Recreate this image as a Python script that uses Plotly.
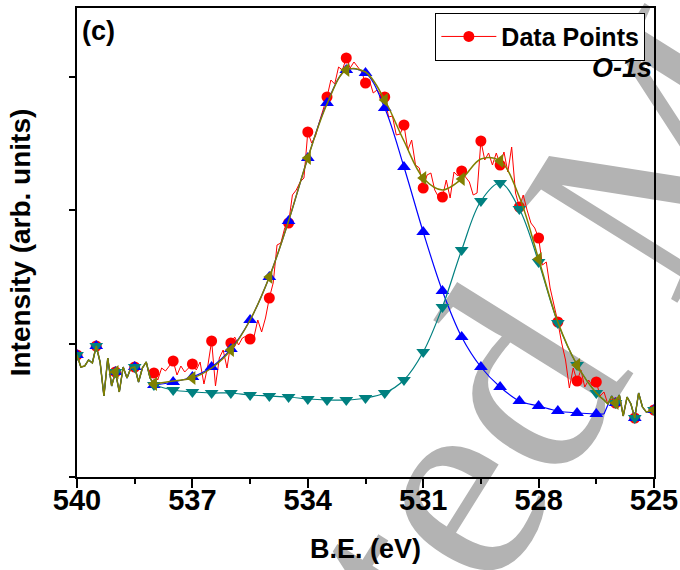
import numpy as np
import plotly.graph_objects as go

# ---- O-1s spectrum: binding energy grid (eV), 0.1 eV step from 540 to 525 ----
energy = np.round(np.linspace(540.0, 525.0, 151), 1)

# measured intensity (arb. units), one value per energy step
raw_counts = [
    1830, 1650, 1665, 1755, 1710, 1965, 1725, 1215, 1785, 1365,   # 540.0 - 539.1
    1575, 1275, 1650, 1485, 1635, 1650, 1425, 1635, 1725, 1485,   # 539.0 - 538.1
    1560, 1455, 1635, 1590, 1665, 1740, 1530, 1665, 1575, 1635,   # 538.0 - 537.1
    1695, 1605, 1725, 1395, 1665, 2040, 1365, 1785, 1905, 1635,   # 537.0 - 536.1
    2010, 2100, 1980, 2085, 2115, 2070, 2100, 2355, 2175, 2385,   # 536.0 - 535.1
    2685, 2910, 3480, 3510, 3735, 3810, 4230, 4305, 4425, 4485,   # 535.0 - 534.1
    5175, 5010, 5115, 5325, 5505, 5700, 5955, 5895, 6150, 6105,   # 534.0 - 533.1
    6285, 6135, 6225, 6150, 6075, 5910, 5955, 5760, 5805, 5730,   # 533.0 - 532.1
    5700, 5400, 5415, 5130, 5145, 5280, 4905, 5055, 4680, 4635,   # 532.0 - 531.1
    4335, 4530, 4560, 4305, 4200, 4200, 4455, 4185, 4575, 4515,   # 531.0 - 530.1
    4590, 4500, 4425, 4230, 4260, 5040, 4755, 4860, 4680, 4860,   # 530.0 - 529.1
    4680, 4875, 4575, 4950, 4260, 4050, 4230, 4005, 3810, 3735,   # 529.0 - 528.1
    3585, 3180, 3225, 2835, 2580, 2325, 2010, 1755, 1335, 1635,   # 528.0 - 527.1
    1440, 1605, 1350, 1455, 1365, 1425, 1215, 1275, 1095, 1215,   # 527.0 - 526.1
    1110, 1230, 915, 1200, 1095, 885, 1260, 1050, 975, 990,       # 526.0 - 525.1
    1005,                                                         # 525.0
]

# ---- peak fit (fitted window 538.0 - 526.3 eV) ----
fit_energy = [538.0, 537.5, 537.0, 536.5, 536.0, 535.5, 535.0, 534.5, 534.0,
              533.5, 533.0, 532.5, 532.0, 531.5, 531.0, 530.5, 530.0, 529.5,
              529.0, 528.5, 528.0, 527.5, 527.0, 526.5, 526.3]
peak1_fit = [1380, 1425, 1500, 1650, 1920, 2355, 3000, 3840, 4785,
             5610, 6105, 6060, 5535, 4650, 3675, 2790, 2100, 1650,
             1350, 1140, 1065, 990, 960, 945, 945]
peak2_fit = [1380, 1305, 1275, 1260, 1260, 1230, 1215, 1200, 1170,
             1155, 1155, 1185, 1260, 1455, 1875, 2550, 3405, 4140,
             4410, 4020, 3225, 2310, 1680, 1260, 1155]
envelope_fit = [1395, 1440, 1485, 1635, 1905, 2355, 3000, 3840, 4785,
                5595, 6105, 6075, 5655, 5040, 4485, 4305, 4470, 4770,
                4740, 4200, 3270, 2325, 1680, 1260, 1155]

x_ticks = [540, 537, 534, 531, 528, 525]
y_ticks = [0, 2000, 4000, 6000]

RED, BLUE, TEAL, OLIVE = "#ff0000", "#0000ff", "#008080", "#808000"
BOLD_FONT = "Liberation Sans, Arial, sans-serif"

raw = np.array(raw_counts, dtype=float)
fit_e = np.array(fit_energy)
left = energy > fit_e[0] + 1e-6      # outside the fit window (high BE side)
right = energy < fit_e[-1] - 1e-6    # outside the fit window (low BE side)
idx = {round(e, 1): i for i, e in enumerate(energy)}


def value_at(e, fit_vals):
    """Fit value inside the fitted window, measured value outside it."""
    e = round(e, 1)
    for fe, fv in zip(fit_energy, fit_vals):
        if abs(fe - e) < 1e-6:
            return fv
    return raw[idx[e]]


fig = go.Figure()

# measured spectrum
fig.add_trace(go.Scatter(x=energy, y=raw, mode="lines",
                         line=dict(color=RED, width=1), showlegend=False,
                         hoverinfo="skip"))
mk = np.arange(0, len(energy), 5)
fig.add_trace(go.Scatter(x=energy[mk], y=raw[mk], mode="markers",
                         marker=dict(symbol="circle", size=11, color=RED),
                         showlegend=False))


def add_component(fit_vals, color, symbol, marker_step, width):
    fv = np.array(fit_vals, dtype=float)
    # outside the window the component follows the measured data
    fig.add_trace(go.Scatter(x=np.append(energy[left], fit_e[0]),
                             y=np.append(raw[left], fv[0]), mode="lines",
                             line=dict(color=color, width=width),
                             showlegend=False))
    fig.add_trace(go.Scatter(x=fit_e, y=fv, mode="lines",
                             line=dict(color=color, width=width,
                                       shape="spline", smoothing=1.0),
                             showlegend=False))
    fig.add_trace(go.Scatter(x=np.insert(energy[right], 0, fit_e[-1]),
                             y=np.insert(raw[right], 0, fv[-1]), mode="lines",
                             line=dict(color=color, width=width),
                             showlegend=False))
    m_e = [energy[i] for i in range(0, len(energy), marker_step)]
    if marker_step == 10:
        m_e = [energy[i] for i in range(10, len(energy), 10)]
    m_y = [value_at(e, fit_vals) for e in m_e]
    fig.add_trace(go.Scatter(x=m_e, y=m_y, mode="markers",
                             marker=dict(symbol=symbol, size=12, color=color),
                             showlegend=False))


add_component(peak1_fit, BLUE, "triangle-up", 5, 1.2)
add_component(peak2_fit, TEAL, "triangle-down", 5, 1.2)
add_component(envelope_fit, OLIVE, "triangle-left", 10, 1.5)

# legend entry
fig.add_trace(go.Scatter(x=[None], y=[None], mode="lines+markers",
                         name="Data Points",
                         line=dict(color=RED, width=1),
                         marker=dict(symbol="circle", size=11, color=RED)))

fig.update_layout(
    width=680, height=570,
    margin=dict(l=77, r=26, t=8, b=93, autoexpand=False),
    paper_bgcolor="white", plot_bgcolor="rgba(0,0,0,0)",
    showlegend=True,
    legend=dict(x=0.985, xanchor="right", y=0.99, yanchor="top",
                bgcolor="white", bordercolor="black", borderwidth=1,
                font=dict(family=BOLD_FONT, size=25, color="black",
                          weight="bold"),
                itemwidth=55, tracegroupgap=0),
)

fig.update_xaxes(
    range=[540, 525], tickvals=x_ticks, ticks="outside", ticklen=9,
    tickwidth=1.5, tickcolor="black", automargin=False,
    ticklabelstandoff=-13,
    minor=dict(dtick=1.5, ticks="outside", ticklen=5, tickwidth=1.5,
               tickcolor="black"),
    showline=True, linecolor="black", linewidth=2, mirror=True,
    showgrid=False, zeroline=False,
    tickfont=dict(family=BOLD_FONT, size=29, color="black", weight="bold"),
    title=dict(text="B.E. (eV)", standoff=24,
               font=dict(family=BOLD_FONT, size=27, color="black",
                         weight="bold")),
)
fig.update_yaxes(
    range=[0, 7035], tickvals=y_ticks, showticklabels=False,
    ticks="outside", ticklen=6, tickwidth=1.5, tickcolor="black",
    automargin=False,
    showline=True, linecolor="black", linewidth=2, mirror=True,
    showgrid=False, zeroline=False,
    title=dict(text="Intensity (arb. units)", standoff=30,
               font=dict(family=BOLD_FONT, size=28, color="black",
                         weight="bold")),
)

# panel label and core level
fig.add_annotation(text="(c)", xref="paper", yref="paper", x=0.005, y=0.988,
                   xanchor="left", yanchor="top", showarrow=False,
                   font=dict(family=BOLD_FONT, size=27, color="black",
                             weight="bold"))
fig.add_annotation(text="<i>O-1s</i>", xref="paper", yref="paper",
                   x=1.0, y=0.908, xanchor="right", yanchor="top",
                   showarrow=False,
                   font=dict(family=BOLD_FONT, size=27, color="black",
                             weight="bold"))

# background stamp
cx, cy = 0.77, 0.35
fig.add_shape(type="rect", xref="paper", yref="paper",
              x0=cx - 0.005, x1=cx + 0.005, y0=cy - 0.005, y1=cy + 0.005,
              line=dict(width=0), fillcolor="rgba(0,0,0,0)", layer="below",
              label=dict(text="ted M", textangle=-58,
                         textposition="middle center",
                         font=dict(family="Liberation Serif", size=285,
                                   color="#b3b3b3")))

fig.write_html("out.html")
